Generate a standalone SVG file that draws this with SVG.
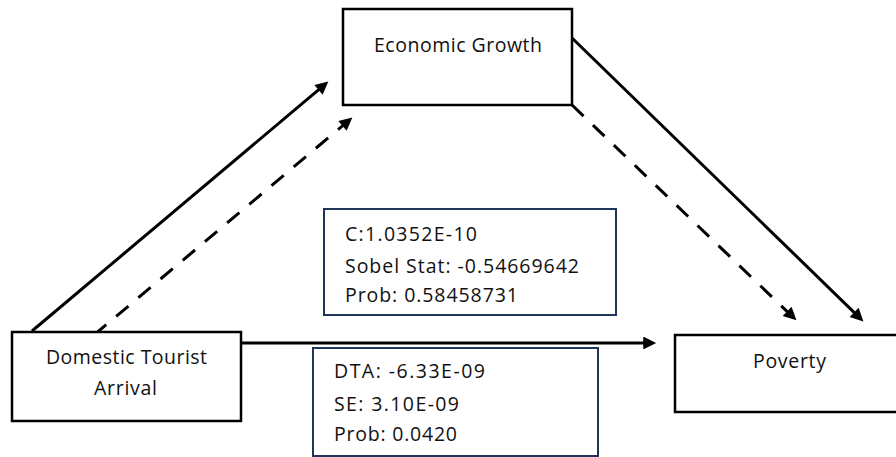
<svg xmlns="http://www.w3.org/2000/svg" width="896" height="457" viewBox="0 0 896 457">
  <style>
    .node { fill: #ffffff; stroke: #000000; stroke-width: 2.5; }
    .stat { fill: #ffffff; stroke: #1f3559; stroke-width: 2; }
    .label { font-family: "Open Sans", Lato, sans-serif; font-size: 19.5px; fill: #111111; }
    .mid { text-anchor: middle; }
    .edge { stroke: #000000; stroke-width: 3; fill: none; }
    .dash { stroke-dasharray: 16 13; }
  </style>
  <defs>
    <marker id="arrow" viewBox="0 0 10 10" refX="6" refY="5" markerWidth="5.3" markerHeight="4.3" markerUnits="strokeWidth" orient="auto">
      <path d="M0,0 L10,5 L0,10 z" fill="#000000"/>
    </marker>
  </defs>

  <!-- connectors -->
  <g id="connectors">
    <line class="edge" x1="32" y1="331" x2="324.4" y2="84.9" marker-end="url(#arrow)"/>
    <line class="edge dash" x1="94" y1="335" x2="348.4" y2="120.9" marker-end="url(#arrow)"/>
    <line class="edge" x1="572" y1="38" x2="859.7" y2="317.8" marker-end="url(#arrow)"/>
    <line class="edge dash" x1="572" y1="105" x2="792.7" y2="316.8" marker-end="url(#arrow)"/>
    <line class="edge" x1="241" y1="343" x2="651" y2="343" marker-end="url(#arrow)"/>
  </g>

  <!-- variables -->
  <g id="economic-growth">
    <rect class="node" x="343" y="9" width="229" height="96"/>
    <text class="label mid" x="458" y="52" textLength="168">Economic Growth</text>
  </g>

  <g id="domestic-tourist-arrival">
    <rect class="node" x="12" y="332" width="229" height="89"/>
    <text class="label mid" x="126.5" y="364" textLength="161">Domestic Tourist</text>
    <text class="label mid" x="125.5" y="395" textLength="63">Arrival</text>
  </g>

  <g id="poverty">
    <rect class="node" x="675" y="335" width="240" height="77"/>
    <text class="label mid" x="789.5" y="368" textLength="73">Poverty</text>
  </g>

  <!-- estimate panels -->
  <g id="sobel-test">
    <rect class="stat" x="324" y="209" width="292" height="106"/>
    <text class="label" x="345" y="241" textLength="132">C:1.0352E-10</text>
    <text class="label" x="345" y="273" textLength="234">Sobel Stat: -0.54669642</text>
    <text class="label" x="345" y="302" textLength="173">Prob: 0.58458731</text>
  </g>

  <g id="direct-effect">
    <rect class="stat" x="313" y="348" width="285" height="108"/>
    <text class="label" x="334" y="378" textLength="151">DTA: -6.33E-09</text>
    <text class="label" x="334" y="411" textLength="125">SE: 3.10E-09</text>
    <text class="label" x="334" y="441" textLength="123">Prob: 0.0420</text>
  </g>
</svg>
